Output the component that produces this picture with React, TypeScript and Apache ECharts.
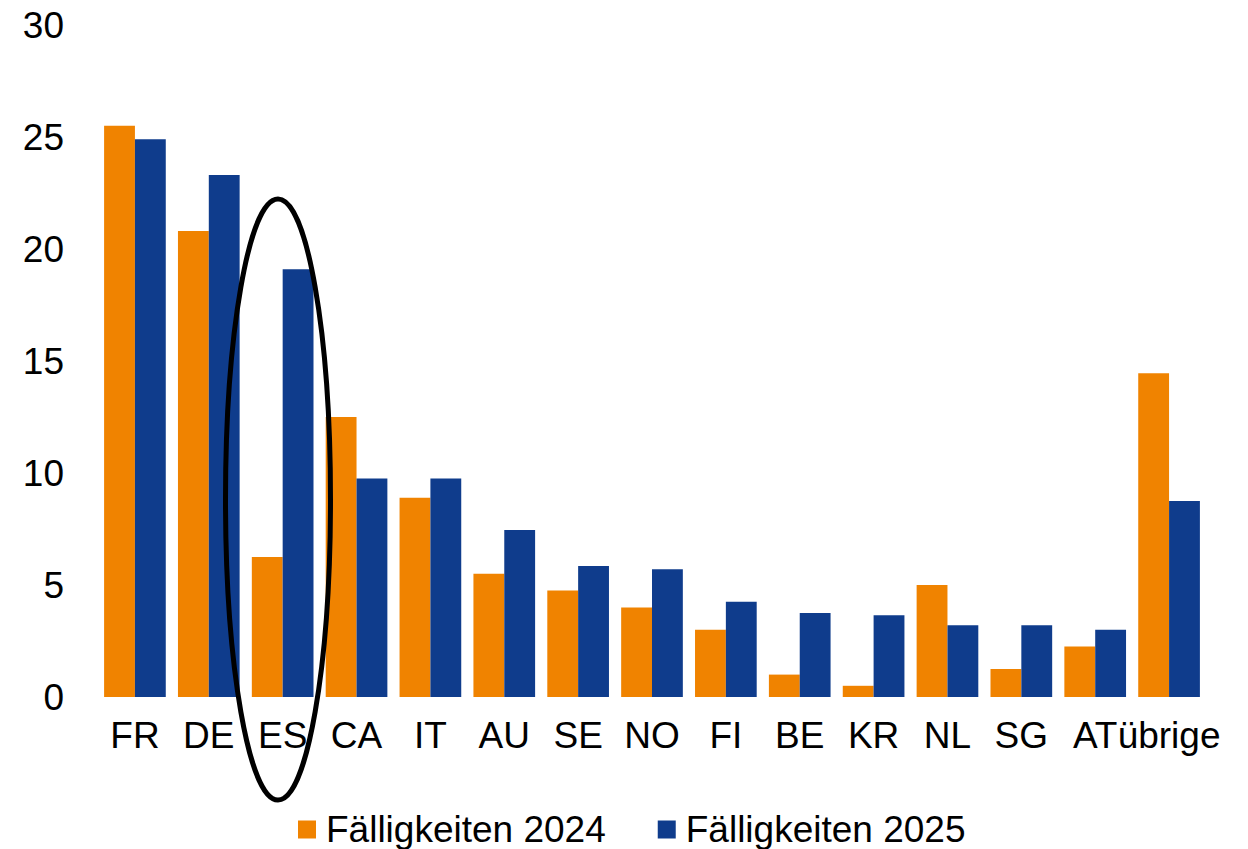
import React, { useEffect, useRef } from "react";
import * as echarts from "echarts";

const categories = ["FR", "DE", "ES", "CA", "IT", "AU", "SE", "NO", "FI", "BE", "KR", "NL", "SG", "AT", "übrige"];
const faellig2024 = [25.5, 20.8, 6.25, 12.5, 8.9, 5.5, 4.75, 4.0, 3.0, 1.0, 0.5, 5.0, 1.25, 2.25, 14.45];
const faellig2025 = [24.9, 23.3, 19.1, 9.75, 9.75, 7.45, 5.85, 5.7, 4.25, 3.75, 3.65, 3.2, 3.2, 3.0, 8.75];
const seriesNames = ["Fälligkeiten 2024", "Fälligkeiten 2025"];
const colors = ["#F08300", "#0F3C8C"];

export default function App() {
  const ref = useRef<HTMLDivElement>(null);
  useEffect(() => {
    if (!ref.current) return;
    const chart = echarts.init(ref.current, undefined, { renderer: "svg" });
    const font = "'Liberation Sans', Arial, sans-serif";
    chart.setOption({
      animation: false,
      color: colors,
      textStyle: { fontFamily: font },
      grid: { left: 98, right: 42, top: 25, bottom: 152, containLabel: false },
      legend: {
        data: seriesNames,
        left: 298,
        top: 811,
        padding: 0,
        itemWidth: 18,
        itemHeight: 18,
        itemGap: 52,
        icon: "rect",
        textStyle: { fontSize: 37, color: "#000", fontFamily: font, padding: [0, 0, 0, 5] },
      },
      xAxis: {
        type: "category",
        data: categories,
        axisLine: { show: false },
        axisTick: { show: false },
        axisLabel: { interval: 0, fontSize: 37, color: "#000", margin: 20, fontFamily: font, hideOverlap: false },
      },
      yAxis: {
        type: "value",
        min: 0,
        max: 30,
        interval: 5,
        splitLine: { show: false },
        axisLine: { show: false },
        axisTick: { show: false },
        axisLabel: { fontSize: 37, color: "#000", margin: 34, fontFamily: font },
      },
      series: [
        {
          name: seriesNames[0],
          type: "bar",
          data: faellig2024,
          barGap: "0%",
          barCategoryGap: "16.5%",
          itemStyle: { color: colors[0] },
        },
        {
          name: seriesNames[1],
          type: "bar",
          data: faellig2025,
          barGap: "0%",
          barCategoryGap: "16.5%",
          itemStyle: { color: colors[1] },
        },
      ],
      graphic: [
        {
          type: "ellipse",
          shape: { cx: 278, cy: 499.5, rx: 52.5, ry: 300.5 },
          style: { fill: "none", stroke: "#000", lineWidth: 5 },
          z: 100,
        },
      ],
    });
    return () => chart.dispose();
  }, []);
  return <div ref={ref} style={{ width: 1248, height: 849, margin: "-8px 0 0 -8px" }} />;
}
